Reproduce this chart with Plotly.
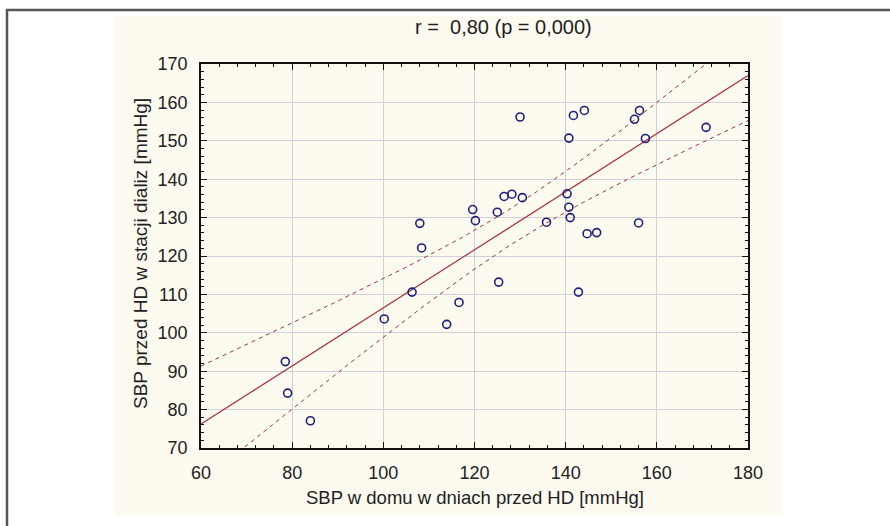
import numpy as np
import plotly.graph_objects as go

# SBP at home (x) vs SBP before HD at dialysis station (y)
sbp_home = [78.5, 79.0, 84.0, 100.2, 106.3, 108.4, 108.0, 113.9, 116.6, 119.6,
            120.2, 125.0, 125.3, 126.5, 128.2, 130.5, 130.0, 135.8, 140.3, 140.7,
            141.0, 140.7, 141.7, 144.1, 142.8, 144.7, 146.8, 155.1, 156.2, 156.0,
            157.5, 170.8]
sbp_station = [92.5, 84.3, 77.1, 103.6, 110.6, 122.1, 128.5, 102.2, 107.9, 132.1,
               129.2, 131.4, 113.2, 135.5, 136.1, 135.2, 156.2, 128.8, 136.2, 132.7,
               130.0, 150.7, 156.6, 157.9, 110.6, 125.8, 126.1, 155.6, 157.9, 128.6,
               150.6, 153.5]

x_ticks = [60, 80, 100, 120, 140, 160, 180]
y_ticks = [70, 80, 90, 100, 110, 120, 130, 140, 150, 160, 170]
title_text = "r =  0,80 (p = 0,000)"
x_title = "SBP w domu w dniach przed HD [mmHg]"
y_title = "SBP przed HD w stacji dializ [mmHg]"

# Linear regression with 95% confidence band computed from the data
xa = np.array(sbp_home)
ya = np.array(sbp_station)
n = len(xa)
slope, intercept = np.polyfit(xa, ya, 1)
resid = ya - (intercept + slope * xa)
s = np.sqrt(np.sum(resid ** 2) / (n - 2))
sxx = np.sum((xa - xa.mean()) ** 2)
t_crit = 2.042
xl = np.linspace(x_ticks[0], x_ticks[-1], 200)
yl = intercept + slope * xl
half = t_crit * s * np.sqrt(1.0 / n + (xl - xa.mean()) ** 2 / sxx)

FONT = "Liberation Sans, Arial, sans-serif"
RED = "#a8323a"
NAVY = "#1f1f7a"
TXT = "#222222"

fig = go.Figure()
fig.add_trace(go.Scatter(x=xl, y=yl + half, mode="lines",
                         line=dict(color=RED, width=1, dash="4px,4px"), showlegend=False))
fig.add_trace(go.Scatter(x=xl, y=yl - half, mode="lines",
                         line=dict(color=RED, width=1, dash="4px,4px"), showlegend=False))
fig.add_trace(go.Scatter(x=xl, y=yl, mode="lines",
                         line=dict(color=RED, width=1.2), showlegend=False))
fig.add_trace(go.Scatter(x=sbp_home, y=sbp_station, mode="markers",
                         marker=dict(symbol="circle-open", size=8, color=NAVY,
                                     line=dict(width=1.6, color=NAVY)),
                         showlegend=False))

W, H = 890, 526
L, R, T, B = 201, 142, 64, 78
pw, ph = W - L - R, H - T - B


def px(xp):
    return (xp - L) / pw


def py(yp):
    return (H - B - yp) / ph


axis_common = dict(
    showline=True, linecolor="#111111", linewidth=1.5, mirror="allticks",
    ticks="inside", ticklen=6, tickwidth=1, tickcolor="#111111",
    showgrid=True, gridcolor="#d0d0d8", gridwidth=1, zeroline=False,
    tickfont=dict(family=FONT, size=18, color=TXT),
    ticklabelstandoff=8,
)

fig.update_xaxes(range=[x_ticks[0], x_ticks[-1]], tickvals=x_ticks,
                 minor=dict(dtick=4, ticks="inside", ticklen=3, tickcolor="#111111", showgrid=False),
                 **axis_common)
fig.update_yaxes(range=[y_ticks[0], y_ticks[-1]], tickvals=y_ticks,
                 minor=dict(dtick=2, ticks="inside", ticklen=3, tickcolor="#111111", showgrid=False),
                 **axis_common)

shapes = [
    dict(type="rect", xref="paper", yref="paper", x0=px(115), x1=px(782), y0=py(515), y1=py(16),
         fillcolor="#fdfaf0", line=dict(width=0), layer="below"),
    dict(type="rect", xref="paper", yref="paper", x0=px(7), x1=px(960), y0=py(600), y1=py(10),
         fillcolor="rgba(0,0,0,0)", line=dict(color="#555555", width=2.5)),
]

annotations = [
    dict(text=title_text, xref="paper", yref="paper", x=px(503), y=py(27),
         showarrow=False, xanchor="center", yanchor="middle",
         font=dict(family=FONT, size=20, color=TXT)),
    dict(text=x_title, xref="paper", yref="paper", x=px(475), y=py(497),
         showarrow=False, xanchor="center", yanchor="middle",
         font=dict(family=FONT, size=18.5, color=TXT)),
    dict(text=y_title, xref="paper", yref="paper", x=px(140), y=py(254),
         showarrow=False, xanchor="center", yanchor="middle", textangle=-90,
         font=dict(family=FONT, size=19, color=TXT)),
]

fig.update_layout(
    width=W, height=H,
    margin=dict(l=L, r=R, t=T, b=B, pad=0),
    paper_bgcolor="white", plot_bgcolor="white",
    shapes=shapes, annotations=annotations,
    font=dict(family=FONT),
)

fig.write_html("out.html")
